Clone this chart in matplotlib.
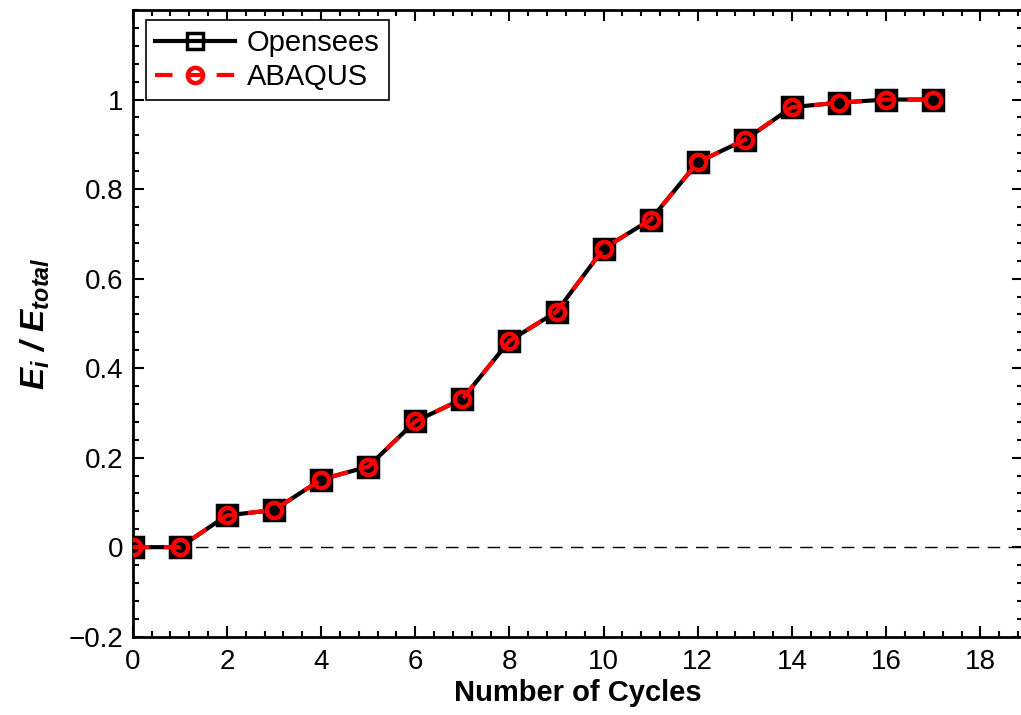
import numpy as np
import matplotlib
matplotlib.use("Agg")
import matplotlib.pyplot as plt
from matplotlib.ticker import MultipleLocator

plt.rcParams['font.family'] = ['Liberation Sans', 'DejaVu Sans']
plt.rcParams['mathtext.fontset'] = 'custom'
plt.rcParams['mathtext.it'] = 'Liberation Sans:bold:italic'
plt.rcParams['mathtext.rm'] = 'Liberation Sans:bold:italic'
plt.rcParams['mathtext.bf'] = 'Liberation Sans:bold:italic'

# energy ratio per cycle
ciclos = list(range(18))
opensees = [0, 0, 0.071, 0.083, 0.151, 0.180, 0.281, 0.331, 0.461, 0.526,
            0.667, 0.732, 0.860, 0.910, 0.983, 0.993, 1.0, 1.0]
abaqus = [0, 0, 0.071, 0.083, 0.151, 0.180, 0.281, 0.331, 0.461, 0.526,
          0.667, 0.732, 0.860, 0.910, 0.983, 0.993, 1.0, 1.0]

fig = plt.figure(figsize=(10.21, 7.15), dpi=100)
ax = fig.add_axes([0.13, 0.1095, 890 / 1021, 0.8765])

ax.axhline(0, color='black', lw=1.0, ls=(0, (9, 6)), zorder=1)

ax.plot(ciclos, opensees, '-', color='black', lw=3, marker='s', ms=14,
        mfc='black', mec='black', mew=2.5, label='Opensees', zorder=3)
ax.plot(ciclos, abaqus, '--', color='red', lw=3, dashes=(4, 3.5), marker='o',
        ms=11, mfc='none', mec='red', mew=3.2, label='ABAQUS', zorder=4)

ax.set_xlim(0, 18.9)
ax.set_ylim(-0.2, 1.2)
ax.xaxis.set_major_locator(MultipleLocator(2))
ax.xaxis.set_minor_locator(MultipleLocator(0.4))
ax.yaxis.set_major_locator(MultipleLocator(0.2))
ax.yaxis.set_minor_locator(MultipleLocator(0.04))
ax.set_yticks([-0.2, 0, 0.2, 0.4, 0.6, 0.8, 1.0])
ax.set_yticklabels(['\u22120.2', '0', '0.2', '0.4', '0.6', '0.8', '1'])

ax.tick_params(which='both', direction='in', top=True, right=True,
               labelsize=20, width=1.5)
ax.tick_params(axis='x', pad=9)
ax.tick_params(axis='y', pad=7)
ax.tick_params(which='major', length=8)
ax.tick_params(which='minor', length=4)
for s in ax.spines.values():
    s.set_linewidth(2)

ax.set_xlabel('Number of Cycles', fontsize=21, fontweight='bold', labelpad=3)
ax.set_ylabel(r'$E_i\ /\ E_{total}$', fontsize=24, labelpad=12)

leg = ax.legend(loc='upper left', fontsize=21, handlelength=2.75,
                borderpad=0.3, labelspacing=0.22, handletextpad=0.4,
                borderaxespad=0.35, fancybox=False, framealpha=1,
                bbox_to_anchor=(0.004, 1.0))
leg.get_frame().set_edgecolor('black')
leg.get_frame().set_linewidth(1.2)
# hollow square in the legend key, and dash - circle - dash for ABAQUS
leg.legend_handles[0].set_markerfacecolor('none')
leg.legend_handles[0].set_markersize(12)
leg.legend_handles[1].set_dashes([4.2, 3.4, 3.8, 3.4])

fig.savefig('out.png', dpi=100)
